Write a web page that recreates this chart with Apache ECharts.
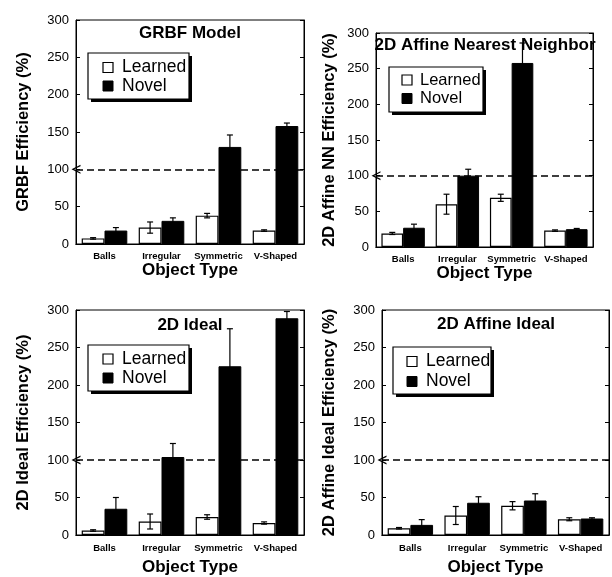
<!DOCTYPE html>
<html><head><meta charset="utf-8">
<script src="https://cdn.jsdelivr.net/npm/echarts@6/dist/echarts.min.js"></script>
<style>html,body{margin:0;padding:0;background:#fff}#c{width:612px;height:577px}</style>
</head><body><div id="c"></div>
<script>
var categories = ['Balls', 'Irregular', 'Symmetric', 'V-Shaped'];
var yTicks = [0, 50, 100, 150, 200, 250, 300];
var panelTitles = ['GRBF Model', '2D Affine Nearest Neighbor', '2D Ideal', '2D Affine Ideal'];
var yTitles = ['GRBF Efficiency (%)', '2D Affine NN Efficiency (%)', '2D Ideal Efficiency (%)', '2D Affine Ideal Efficiency (%)'];
var legendNames = ['Learned', 'Novel'];
var xTitle = 'Object Type';
var referenceLine = 100;

var grbfLearned = [7.5, 22, 38, 18];
var grbfLearnedErr = [1, 7.5, 3, 1];
var grbfNovel = [18, 31, 130, 158];
var grbfNovelErr = [4, 4, 16, 4];

var nnLearned = [19, 60, 69, 23];
var nnLearnedErr = [1.5, 14, 5, 1];
var nnNovel = [27, 100, 258, 25];
var nnNovelErr = [5, 9, 28, 1];

var idealLearned = [6, 18, 24, 16];
var idealLearnedErr = [1, 10, 3, 1.5];
var idealNovel = [35, 104, 225, 289];
var idealNovelErr = [15, 18, 50, 9];

var affLearned = [9, 26, 39, 21];
var affLearnedErr = [1, 12, 5.5, 2];
var affNovel = [13.5, 43, 46, 22];
var affNovelErr = [7, 8, 9, 1];

var panels = [
  {learned: grbfLearned, lErr: grbfLearnedErr, novel: grbfNovel, nErr: grbfNovelErr},
  {learned: nnLearned, lErr: nnLearnedErr, novel: nnNovel, nErr: nnNovelErr},
  {learned: idealLearned, lErr: idealLearnedErr, novel: idealNovel, nErr: idealNovelErr},
  {learned: affLearned, lErr: affLearnedErr, novel: affNovel, nErr: affNovelErr}
];

var FONT = '"Liberation Sans", Arial, Helvetica, sans-serif';
var GAP = 0.2;
var grids = [
  {left: 76, top: 20, width: 228, height: 224},
  {left: 376, top: 33, width: 217, height: 214},
  {left: 76, top: 310, width: 228, height: 226},
  {left: 382, top: 310, width: 227, height: 226}
];
var yNameGaps = [44, 38, 44, 44];
var xNameGaps = [18, 18, 24, 24];
var xLabelMargins = [7, 7, 8, 8];
var titlePos = [[190, 33], [485, 45], [190, 325], [496, 324]];
// legend box: x, y, w, h, row1 centre y, row2 centre y, icon x, text x, font size
var legendBoxes = [
  [88, 53, 101, 46, 67.5, 86, 103, 122, 17.5],
  [389, 67, 94, 45, 80, 98.5, 402, 420, 16.5],
  [88, 345, 101, 46, 359, 378, 103, 122, 17.5],
  [393, 347, 98, 47, 361.5, 381.5, 407, 426, 17.5]
];

var chart = echarts.init(document.getElementById('c'), null, {renderer: 'canvas'});

function errRender(side) {
  return function (params, api) {
    var i = api.value(0), v = api.value(1), e = api.value(2);
    var band = api.size([1, 0])[0];
    var bw = band * (1 - GAP) / 2;
    var x = api.coord([i, v])[0] + side * bw / 2;
    var yt = api.coord([i, v + e])[1];
    var yb = api.coord([i, Math.max(0, v - e)])[1];
    var cap = 3;
    var st = {stroke: '#000', lineWidth: 1.2};
    return {type: 'group', children: [
      {type: 'line', shape: {x1: x, y1: yt, x2: x, y2: yb}, style: st},
      {type: 'line', shape: {x1: x - cap, y1: yt, x2: x + cap, y2: yt}, style: st},
      {type: 'line', shape: {x1: x - cap, y1: yb, x2: x + cap, y2: yb}, style: st}
    ]};
  };
}

var xAxes = [], yAxes = [], series = [], titles = [], graphics = [];
panels.forEach(function (p, k) {
  xAxes.push({
    type: 'category', gridIndex: k, data: categories,
    name: xTitle, nameLocation: 'middle', nameGap: xNameGaps[k],
    nameTextStyle: {fontFamily: FONT, fontWeight: 'bold', fontSize: 17, color: '#000', verticalAlign: 'top'},
    axisLine: {lineStyle: {color: '#000', width: 1}},
    axisTick: {inside: true, length: 5, lineStyle: {color: '#000'}},
    axisLabel: {fontFamily: FONT, fontWeight: 'bold', fontSize: 9.5, color: '#000', margin: xLabelMargins[k], interval: 0}
  });
  yAxes.push({
    type: 'value', gridIndex: k, min: 0, max: 300, interval: 50,
    name: yTitles[k], nameLocation: 'middle', nameGap: yNameGaps[k], nameRotate: 90,
    nameTextStyle: {fontFamily: FONT, fontWeight: 'bold', fontSize: 16.5, color: '#000'},
    axisLine: {show: true, lineStyle: {color: '#000', width: 1}},
    axisTick: {show: true, inside: true, length: 4, lineStyle: {color: '#000'}},
    axisLabel: {fontFamily: FONT, fontSize: 13, color: '#000', margin: 7,
      formatter: function (v) { return yTicks.indexOf(v) >= 0 ? String(v) : ''; }},
    splitLine: {show: false}
  });
});
panels.forEach(function (p, k) {
  xAxes.push({
    type: 'category', gridIndex: k, data: categories, position: 'top',
    axisLine: {lineStyle: {color: '#000', width: 1}},
    axisTick: {inside: true, length: 5, lineStyle: {color: '#000'}},
    axisLabel: {show: false}
  });
  yAxes.push({
    type: 'value', gridIndex: k, min: 0, max: 300, interval: 50, position: 'right',
    axisLine: {show: true, lineStyle: {color: '#000', width: 1}},
    axisTick: {show: true, inside: true, length: 4, lineStyle: {color: '#000'}},
    axisLabel: {show: false}, splitLine: {show: false}
  });
});

var chevron = 'path://M5,0 L10,10 L8.4,10 L5,3 L1.6,10 L0,10 Z';

panels.forEach(function (p, k) {
  series.push({
    name: legendNames[0], type: 'bar', xAxisIndex: k, yAxisIndex: k, data: p.learned,
    barGap: '0%', barCategoryGap: (GAP * 100) + '%',
    itemStyle: {color: '#fff', borderColor: '#000', borderWidth: 1.2},
    markLine: {
      silent: true, symbol: [chevron, 'none'], symbolSize: [9, 9], symbolOffset: [0, 0],
      label: {show: false},
      lineStyle: {color: '#000', type: [7, 4], width: 1.7},
      data: [{yAxis: referenceLine}]
    }
  });
  series.push({
    name: legendNames[1], type: 'bar', xAxisIndex: k, yAxisIndex: k, data: p.novel,
    barGap: '0%', barCategoryGap: (GAP * 100) + '%',
    itemStyle: {color: '#000', borderColor: '#000', borderWidth: 1}
  });
  series.push({
    type: 'custom', xAxisIndex: k, yAxisIndex: k, renderItem: errRender(-1), z: 5,
    encode: {x: 0, y: 1},
    data: p.learned.map(function (v, i) { return [i, v, p.lErr[i]]; })
  });
  series.push({
    type: 'custom', xAxisIndex: k, yAxisIndex: k, renderItem: errRender(1), z: 5,
    encode: {x: 0, y: 1},
    data: p.novel.map(function (v, i) { return [i, v, p.nErr[i]]; })
  });
  titles.push({
    text: panelTitles[k], left: titlePos[k][0], top: titlePos[k][1], textAlign: 'center',
    textVerticalAlign: 'middle', padding: 0,
    textStyle: {fontFamily: FONT, fontWeight: 'bold', fontSize: 17, color: '#000'}
  });
  var b = legendBoxes[k];
  var icon = 10;
  graphics.push({
    type: 'group', z: 50, silent: true, children: [
      {type: 'rect', shape: {x: b[0] + 3, y: b[1] + 3, width: b[2], height: b[3]}, style: {fill: '#000'}},
      {type: 'rect', shape: {x: b[0], y: b[1], width: b[2], height: b[3]}, style: {fill: '#fff', stroke: '#000', lineWidth: 1.2}},
      {type: 'rect', shape: {x: b[6], y: b[4] - icon / 2, width: icon, height: icon}, style: {fill: '#fff', stroke: '#000', lineWidth: 1.2}},
      {type: 'rect', shape: {x: b[6], y: b[5] - icon / 2, width: icon, height: icon}, style: {fill: '#000', stroke: '#000', lineWidth: 1}},
      {type: 'text', x: b[7], y: b[4], style: {text: legendNames[0], fontFamily: FONT, fontSize: b[8], fill: '#000', verticalAlign: 'middle', align: 'left'}},
      {type: 'text', x: b[7], y: b[5], style: {text: legendNames[1], fontFamily: FONT, fontSize: b[8], fill: '#000', verticalAlign: 'middle', align: 'left'}}
    ]
  });
});

chart.setOption({
  animation: false,
  title: titles,
  graphic: graphics,
  grid: grids.map(function (g) { return Object.assign({show: true, borderColor: '#000', borderWidth: 1, backgroundColor: 'transparent'}, g); }),
  xAxis: xAxes,
  yAxis: yAxes,
  series: series
});
</script></body></html>
